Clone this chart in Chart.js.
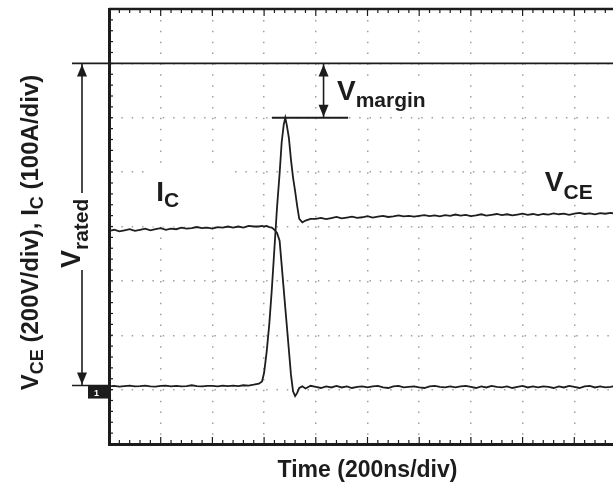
<!DOCTYPE html>
<html>
<head>
<meta charset="utf-8">
<script src="https://cdn.jsdelivr.net/npm/chart.js@4.4.0/dist/chart.umd.min.js"></script>
<style>
  html, body { margin:0; padding:0; background:#fff; overflow:hidden; }
  #wrap { width:640px; height:485px; position:relative; }
</style>
</head>
<body>
<div id="wrap"><canvas id="c"></canvas></div>
<script>
// time in ns, 200 ns/div (screen is cut at about 1950 ns)
const timeNs = [
  0,20,40,60,80,100,120,140,160,180,200,220,240,260,280,300,320,340,360,380,400,420,440,460,480,500,520,540,560,
  580,592,600,610,620,630,640,650,660,668,676,682,688,696,704,712,720,728,736,748,760,780,
  800,820,840,860,880,900,920,940,960,980,1000,1020,1040,1060,1080,1100,1120,1140,1160,1180,
  1200,1220,1240,1260,1280,1300,1320,1340,1360,1380,1400,1420,1440,1460,1480,1500,1520,1540,1560,1580,
  1600,1620,1640,1660,1680,1700,1720,1740,1760,1780,1800,1820,1840,1860,1880,1900,1920,1940,1960,1980,2000
];
// collector-emitter voltage, V (200 V/div)
const vce = [
  12,14,11,13,15,12,13,15,12,11,14,15,12,14,12,13,16,13,12,14,14,12,15,13,15,13,16,15,18,
  22,30,62,140,240,370,520,670,795,910,975,1000,972,925,845,780,730,675,628,615,622,628,
  628,632,627,631,635,630,633,636,632,634,638,633,636,639,635,637,641,637,639,636,
  639,642,638,641,637,642,639,644,640,643,638,641,645,640,643,646,642,645,641,644,
  647,643,646,642,646,644,648,645,647,643,647,650,646,648,645,649,647,650,647,649,646
];
// collector current, A (100 A/div)
const ic = [
  292,294,291,293,295,292,294,296,293,295,297,294,296,295,298,296,297,299,297,298,296,299,298,300,298,300,298,301,300,
  300,301,300,301,299,298,294,288,274,229,184,150,117,72,27,-3,-12,-6,3,6,2,7,
  5,3,6,4,7,4,6,3,5,6,4,6,7,4,3,6,7,4,5,6,
  4,3,6,7,5,4,6,4,6,7,5,3,6,4,7,5,4,6,3,5,
  7,4,6,4,6,5,3,6,4,7,5,3,6,7,4,6,4,5,7,4,6
];

const ratedV = 1200, peakV = 1000, baseV = 15;
const marginT = 830;          // where the V_margin arrow stands (ns)
const peakLine = [630, 925];  // span of the marker line at the peak (ns)

const FONT = "'Liberation Sans', Arial, Helvetica, sans-serif";
const INK = '#1c1c1c';

// draw a row of text pieces (for subscripts)
function runs(ctx, parts, x, y, align) {
  let w = 0;
  parts.forEach(p => { ctx.font = `bold ${p.size}px ${FONT}`; p.w = ctx.measureText(p.t).width; w += p.w; });
  let cx = align === 'center' ? x - w / 2 : x;
  ctx.textBaseline = 'alphabetic';
  ctx.textAlign = 'left';
  parts.forEach(p => {
    ctx.font = `bold ${p.size}px ${FONT}`;
    ctx.fillText(p.t, cx, y + (p.dy || 0));
    cx += p.w;
  });
}

function arrowV(ctx, x, yTop, yBot, yFrom, yTo) {
  ctx.beginPath(); ctx.moveTo(x, yFrom); ctx.lineTo(x, yTo); ctx.stroke();
  const hl = 12, hw = 5;
  ctx.beginPath(); ctx.moveTo(x, yTop); ctx.lineTo(x - hw, yTop + hl); ctx.lineTo(x + hw, yTop + hl); ctx.closePath(); ctx.fill();
  ctx.beginPath(); ctx.moveTo(x, yBot); ctx.lineTo(x - hw, yBot - hl); ctx.lineTo(x + hw, yBot - hl); ctx.closePath(); ctx.fill();
}

const scopePlugin = {
  id: 'scope',
  beforeDatasetsDraw(chart) {
    const { ctx, scales: { x, y } } = chart;
    ctx.save();
    ctx.fillStyle = '#fff';
    const box = (t1, t2, v1, v2) => ctx.fillRect(x.getPixelForValue(t1), y.getPixelForValue(v1),
      x.getPixelForValue(t2) - x.getPixelForValue(t1), y.getPixelForValue(v2) - y.getPixelForValue(v1));
    box(143, 468, 818, 600);     // I_C label
    box(1613, 2100, 821, 682);   // V_CE label
    box(874, 1234, 1152, 1024);  // V_margin label
    ctx.restore();
  },
  afterDatasetsDraw(chart) {
    const { ctx, chartArea: a, scales: { x, y } } = chart;
    ctx.save();
    ctx.strokeStyle = INK; ctx.fillStyle = INK; ctx.lineWidth = 1.6;

    // frame top + minor ticks on the edges
    ctx.lineWidth = 2.5;
    ctx.beginPath(); ctx.moveTo(a.left, a.top); ctx.lineTo(a.right + 20, a.top); ctx.stroke();
    ctx.lineWidth = 1.2;
    for (let t = 0; t <= 2000; t += 40) {
      const px = x.getPixelForValue(t), len = t % 200 === 0 ? 7 : 4;
      ctx.beginPath();
      ctx.moveTo(px, a.bottom); ctx.lineTo(px, a.bottom - len);
      ctx.moveTo(px, a.top); ctx.lineTo(px, a.top + len);
      ctx.stroke();
    }
    for (let v = -200; v <= 1400; v += 40) {
      const py = y.getPixelForValue(v);
      ctx.beginPath(); ctx.moveTo(a.left, py); ctx.lineTo(a.left + 4, py); ctx.stroke();
    }

    // V_rated reference line and arrow
    const yR = y.getPixelForValue(ratedV), yB = y.getPixelForValue(baseV), yP = y.getPixelForValue(peakV);
    const xR = a.left - 27;
    ctx.lineWidth = 1.6;
    ctx.beginPath(); ctx.moveTo(a.left - 37, yR); ctx.lineTo(a.right + 20, yR); ctx.stroke();
    ctx.beginPath(); ctx.moveTo(a.left - 37, yB); ctx.lineTo(a.left, yB); ctx.stroke();
    arrowV(ctx, xR, yR + 1, yB - 1, yR, yB);
    ctx.fillStyle = '#fff';
    ctx.fillRect(xR - 9, 193, 20, 77);
    ctx.fillStyle = INK;
    ctx.save();
    ctx.translate(xR - 2, 268); ctx.rotate(-Math.PI / 2);
    runs(ctx, [{ t: 'V', size: 27 }, { t: 'rated', size: 21, dy: 8 }], 0, 0, 'left');
    ctx.restore();

    // channel ground marker
    ctx.fillRect(a.left - 21, yB, 21, 13);
    ctx.fillStyle = '#fff';
    ctx.font = `bold 9px ${FONT}`;
    ctx.fillText('1', a.left - 15, yB + 10);
    ctx.fillStyle = INK;

    // V_margin arrow and peak line
    const xM = x.getPixelForValue(marginT);
    ctx.lineWidth = 2;
    ctx.beginPath(); ctx.moveTo(x.getPixelForValue(peakLine[0]), yP); ctx.lineTo(x.getPixelForValue(peakLine[1]), yP); ctx.stroke();
    ctx.lineWidth = 1.6;
    arrowV(ctx, xM, yR + 1, yP - 1, yR, yP);
    runs(ctx, [{ t: 'V', size: 28 }, { t: 'margin', size: 21, dy: 7 }], x.getPixelForValue(882), y.getPixelForValue(1065), 'left');

    // trace labels
    runs(ctx, [{ t: 'I', size: 28 }, { t: 'C', size: 21, dy: 6 }], x.getPixelForValue(183), y.getPixelForValue(693), 'left');
    runs(ctx, [{ t: 'V', size: 28 }, { t: 'CE', size: 21, dy: 8 }], x.getPixelForValue(1686), y.getPixelForValue(730), 'left');

    // axis titles
    runs(ctx, [{ t: 'Time (200ns/div)', size: 23 }], (a.left + a.right) / 2, 477, 'center');
    ctx.save();
    ctx.translate(38, (a.top + a.bottom) / 2 + 6); ctx.rotate(-Math.PI / 2);
    runs(ctx, [{ t: 'V', size: 24 }, { t: 'CE', size: 18, dy: 5 }, { t: ' (200V/div), I', size: 24 },
               { t: 'C', size: 18, dy: 5 }, { t: ' (100A/div)', size: 24 }], 0, 0, 'center');
    ctx.restore();
    ctx.restore();
  }
};

new Chart(document.getElementById('c'), {
  type: 'line',
  data: {
    datasets: [
      { label: 'VCE', yAxisID: 'y', data: timeNs.map((t, i) => ({ x: t, y: vce[i] })),
        borderColor: '#1e1e1e', borderWidth: 1.8, pointRadius: 0, tension: 0 },
      { label: 'IC', yAxisID: 'y2', data: timeNs.map((t, i) => ({ x: t, y: ic[i] })),
        borderColor: '#1e1e1e', borderWidth: 1.8, pointRadius: 0, tension: 0 },
    ],
  },
  options: {
    responsive: true, maintainAspectRatio: false, animation: false,
    layout: { padding: { left: 109, right: 14, top: 9, bottom: 41 } },
    plugins: { legend: { display: false }, tooltip: { enabled: false } },
    scales: {
      x: {
        type: 'linear', min: 0, max: 2000,
        ticks: { display: false, stepSize: 200 },
        grid: { color: '#a0a0a0', lineWidth: 1.5, drawTicks: false },
        border: { color: INK, width: 3, dash: [1.5, 9.38] },
        afterFit: s => { s.height = 0; },
      },
      y: {
        min: -200, max: 1400,
        ticks: { display: false, stepSize: 200 },
        grid: { color: '#a0a0a0', lineWidth: 1.5, drawTicks: false },
        border: { color: INK, width: 3, dash: [1.5, 8.84] },
        afterFit: s => { s.width = 0; },
      },
      y2: { display: false, min: -100, max: 700 },
    },
  },
  plugins: [scopePlugin],
});
</script>
</body>
</html>
